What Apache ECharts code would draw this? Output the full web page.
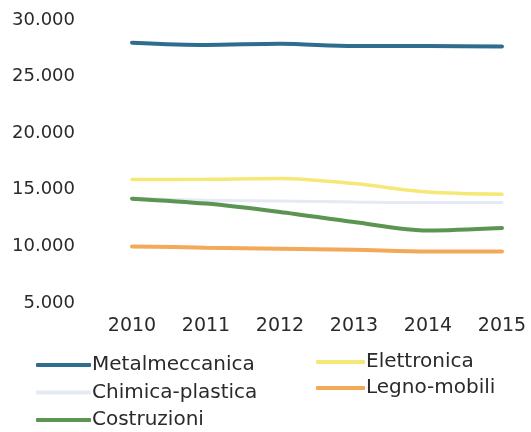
<!DOCTYPE html>
<html>
<head>
<meta charset="utf-8">
<script src="https://cdn.jsdelivr.net/npm/echarts@6/dist/echarts.min.js"></script>
<style>
  html, body { margin: 0; padding: 0; background: #ffffff; }
  #chart { width: 531px; height: 432px; }
</style>
</head>
<body>
<div id="chart"></div>
<script>
// Addetti per settore, 2010-2015
const years = ['2010', '2011', '2012', '2013', '2014', '2015'];
const metalmeccanica = [28000, 27800, 27900, 27700, 27700, 27650];
const elettronica = [15900, 15930, 16000, 15550, 14800, 14600];
const chimicaPlastica = [14250, 14070, 14000, 13920, 13870, 13870];
const legnoMobili = [10000, 9890, 9800, 9710, 9560, 9560];
const costruzioni = [14220, 13780, 13040, 12150, 11400, 11620];

const FONT = 'DejaVu Sans';

function fmt(v) {
  return String(v).replace(/\B(?=(\d{3})+(?!\d))/g, '.');
}

function line(name, data, color, width) {
  return {
    name: name,
    type: 'line',
    data: data,
    symbol: 'none',
    smooth: 0.3,
    lineStyle: { color: color, width: width, cap: 'round' },
    itemStyle: { color: color }
  };
}

const legendText = { color: '#2a2a2a', fontFamily: FONT, fontSize: 20, padding: [0, 0, 0, -4] };

const chart = echarts.init(document.getElementById('chart'), null, { renderer: 'canvas' });
chart.setOption({
  backgroundColor: '#ffffff',
  animation: false,
  grid: { left: 132, right: 29, top: 20, bottom: 129 },
  xAxis: {
    type: 'category',
    data: years,
    boundaryGap: false,
    axisLine: { show: false },
    axisTick: { show: false },
    axisLabel: { color: '#2a2a2a', fontFamily: FONT, fontSize: 19, margin: 14 }
  },
  yAxis: {
    type: 'value',
    min: 5000,
    max: 30000,
    interval: 5000,
    splitLine: { show: false },
    axisLine: { show: false },
    axisTick: { show: false },
    axisLabel: {
      color: '#2a2a2a', fontFamily: FONT, fontSize: 18, margin: 57,
      formatter: fmt
    }
  },
  legend: [
    {
      data: ['Metalmeccanica', 'Chimica-plastica', 'Costruzioni'],
      orient: 'vertical',
      left: 36, top: 355, height: 90, padding: 0,
      icon: 'roundRect',
      itemWidth: 55, itemHeight: 4, itemGap: 7.5,
      textStyle: legendText
    },
    {
      data: ['Elettronica', 'Legno-mobili'],
      orient: 'vertical',
      left: 316, top: 352, height: 90, padding: 0,
      icon: 'roundRect',
      itemWidth: 49, itemHeight: 4, itemGap: 6,
      textStyle: legendText
    }
  ],
  series: [
    line('Metalmeccanica', metalmeccanica, '#2f6d8e', 4),
    line('Elettronica', elettronica, '#f6e877', 3.5),
    line('Chimica-plastica', chimicaPlastica, '#e4e9f3', 3),
    line('Legno-mobili', legnoMobili, '#f2aa58', 4),
    line('Costruzioni', costruzioni, '#5b9551', 4)
  ]
});
</script>
</body>
</html>
